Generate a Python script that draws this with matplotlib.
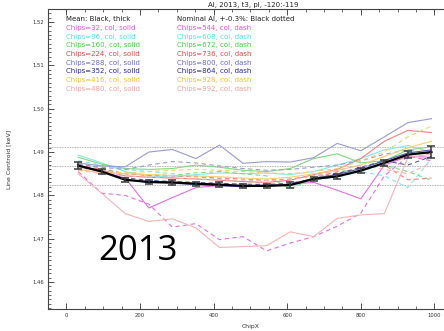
import matplotlib
matplotlib.use("Agg")
import matplotlib.pyplot as plt
from matplotlib.ticker import MultipleLocator
import numpy as np

# chip positions (x) for every curve
chip_x = [32, 96, 160, 224, 288, 352, 416, 480, 544, 608, 672, 736, 800, 864, 928, 992]

# mean curve and its error bars
mean_y = [1.4869, 1.4855, 1.4836, 1.4831, 1.4830, 1.4827, 1.4825, 1.4822,
          1.4822, 1.4824, 1.4838, 1.4844, 1.4857, 1.4875, 1.4894, 1.4900]
mean_err = [0.0009, 0.0006, 0.0004, 0.0005, 0.0005, 0.0005, 0.0005, 0.0005,
            0.0005, 0.0006, 0.0005, 0.0006, 0.0006, 0.0006, 0.0008, 0.0013]

nominal = 1.4868
tolerance = 0.003  # +-0.3%

# one curve per chip row, solid ones first then dashed
solid_chips = [32, 96, 160, 224, 288, 352, 416, 480]
dash_chips = [544, 608, 672, 736, 800, 864, 928, 992]

solid_y = [
    [1.4866, 1.4855, 1.4840, 1.4771, 1.4795, 1.4818, 1.4823, 1.4822, 1.4824, 1.4826, 1.4830, 1.4812, 1.4792, 1.4870, 1.4890, 1.4888],
    [1.4893, 1.4875, 1.4855, 1.4845, 1.4842, 1.4848, 1.4852, 1.4850, 1.4852, 1.4848, 1.4855, 1.4870, 1.4885, 1.4905, 1.4915, 1.4900],
    [1.4888, 1.4872, 1.4862, 1.4860, 1.4862, 1.4870, 1.4865, 1.4858, 1.4855, 1.4862, 1.4885, 1.4896, 1.4875, 1.4880, 1.4905, 1.4912],
    [1.4866, 1.4858, 1.4845, 1.4842, 1.4840, 1.4838, 1.4835, 1.4832, 1.4830, 1.4835, 1.4848, 1.4860, 1.4885, 1.4925, 1.4950, 1.4945],
    [1.4875, 1.4868, 1.4866, 1.4900, 1.4906, 1.4885, 1.4916, 1.4874, 1.4878, 1.4877, 1.4887, 1.4920, 1.4903, 1.4935, 1.4968, 1.4977],
    [1.4868, 1.4856, 1.4837, 1.4830, 1.4828, 1.4825, 1.4822, 1.4820, 1.4822, 1.4824, 1.4840, 1.4848, 1.4862, 1.4880, 1.4898, 1.4905],
    [1.4860, 1.4852, 1.4850, 1.4848, 1.4846, 1.4845, 1.4843, 1.4840, 1.4838, 1.4842, 1.4850, 1.4858, 1.4870, 1.4890, 1.4910, 1.4925],
    [1.4850, 1.4805, 1.4758, 1.4740, 1.4746, 1.4725, 1.4680, 1.4682, 1.4684, 1.4716, 1.4705, 1.4747, 1.4755, 1.4758, 1.4888, 1.4895],
]

dash_y = [
    [1.4855, 1.4805, 1.4800, 1.4780, 1.4727, 1.4735, 1.4698, 1.4705, 1.4672, 1.4690, 1.4705, 1.4729, 1.4759, 1.4845, 1.4890, 1.4880],
    [1.4880, 1.4870, 1.4860, 1.4855, 1.4850, 1.4845, 1.4838, 1.4832, 1.4828, 1.4820, 1.4835, 1.4842, 1.4855, 1.4845, 1.4818, 1.4885],
    [1.4875, 1.4862, 1.4850, 1.4848, 1.4846, 1.4852, 1.4855, 1.4850, 1.4845, 1.4815, 1.4840, 1.4855, 1.4860, 1.4870, 1.4855, 1.4835],
    [1.4870, 1.4860, 1.4850, 1.4846, 1.4845, 1.4843, 1.4840, 1.4838, 1.4835, 1.4838, 1.4845, 1.4852, 1.4860, 1.4870, 1.4836, 1.4840],
    [1.4872, 1.4865, 1.4860, 1.4870, 1.4878, 1.4875, 1.4868, 1.4862, 1.4858, 1.4860, 1.4865, 1.4870, 1.4880, 1.4895, 1.4905, 1.4895],
    [1.4868, 1.4855, 1.4840, 1.4835, 1.4832, 1.4830, 1.4828, 1.4826, 1.4825, 1.4828, 1.4838, 1.4850, 1.4865, 1.4880, 1.4870, 1.4890],
    [1.4862, 1.4855, 1.4852, 1.4855, 1.4858, 1.4860, 1.4858, 1.4855, 1.4852, 1.4850, 1.4855, 1.4862, 1.4880, 1.4900, 1.4935, 1.4960],
    [1.4858, 1.4850, 1.4845, 1.4842, 1.4840, 1.4838, 1.4836, 1.4835, 1.4834, 1.4836, 1.4845, 1.4858, 1.4870, 1.4860, 1.4850, 1.4875],
]

row_colors = ['#e050e0', '#50e0e8', '#40d040', '#e04848', '#6a6ad0', '#282890', '#f0c030', '#f0a0a0']
line_colors = ['#e070e0', '#80e8ee', '#80d880', '#f08080', '#9a9ad0', '#5a5aa8', '#f4d070', '#f4b4b4']

fig = plt.figure(figsize=(4.44, 3.31), dpi=100)
# axes runs past the right edge of the picture, like the cropped original
ax = fig.add_axes([48 / 444, 22 / 331, 404.8 / 444, 300 / 331])

for i in range(8):
    ax.plot(chip_x, solid_y[i], color=line_colors[i], lw=0.8, zorder=2)
    ax.plot(chip_x, dash_y[i], color=line_colors[i], lw=0.8, ls=(0, (4, 3)), zorder=2)

for v in [nominal * (1 + tolerance), nominal, nominal * (1 - tolerance)]:
    ax.axhline(v, color='#999999', lw=0.6, ls=(0, (1, 1)), zorder=1)

ax.plot(chip_x, mean_y, color='black', lw=1.6, zorder=4)
ax.errorbar(chip_x, mean_y, yerr=mean_err, fmt='none', ecolor='#3a3a3a',
            elinewidth=1.1, capsize=2.8, capthick=1.1, zorder=5)

ax.set_xlim(-50, 1050)
ax.set_ylim(1.4538, 1.5230)
ax.xaxis.set_major_locator(MultipleLocator(200))
ax.xaxis.set_minor_locator(MultipleLocator(50))
ax.yaxis.set_major_locator(MultipleLocator(0.01))
ax.yaxis.set_minor_locator(MultipleLocator(0.001))
ax.yaxis.set_major_formatter(matplotlib.ticker.FormatStrFormatter('%.2f'))
ax.tick_params(which='both', direction='in', top=True, right=True,
               labelsize=3.8, colors='#333333', pad=3)
ax.tick_params(which='major', length=4.5, width=0.6)
ax.tick_params(which='minor', length=2.2, width=0.5)
for s in ax.spines.values():
    s.set_linewidth(0.8)
    s.set_color('#444444')

ax.set_xlabel('ChipX', fontsize=4.4, color='#333333', labelpad=4)
ax.set_ylabel('Line Centroid [keV]', fontsize=4.4, color='#333333', labelpad=15)
fig.text(0.57, 1 - 7 / 331, 'Al, 2013, t3, pl, -120:-119', fontsize=5.0,
         ha='center', va='baseline', color='#222222')

# legend written as coloured text, two columns
leg_size = 5.0
ax.text(0, 1.5206, 'Mean: Black, thick', fontsize=leg_size, color='#222222', va='center')
ax.text(300, 1.5206, 'Nominal Al, +-0.3%: Black dotted', fontsize=leg_size, color='#222222', va='center')
for i in range(8):
    yy = 1.5186 - 0.002 * i
    ax.text(0, yy, 'Chips=%d, col, solid' % solid_chips[i], fontsize=leg_size,
            color=row_colors[i], va='center')
    ax.text(300, yy, 'Chips=%d, col, dash' % dash_chips[i], fontsize=leg_size,
            color=row_colors[i], va='center')

fig.text(137.5 / 444, (331 - 260) / 331, '2013', fontsize=25, family='Open Sans',
         ha='center', va='baseline', color='black')

fig.savefig('out.png', dpi=100)
